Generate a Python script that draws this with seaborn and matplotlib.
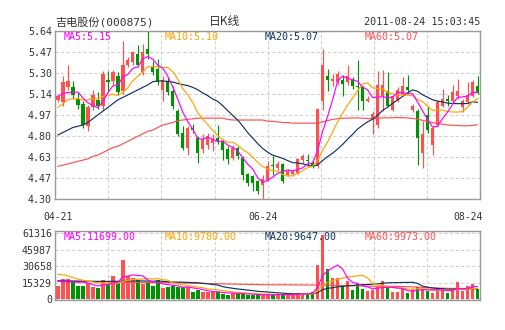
import numpy as np
import pandas as pd
import matplotlib
matplotlib.use("Agg")
import matplotlib.pyplot as plt
import matplotlib.transforms as mtransforms
import seaborn as sns

# ---------------- data ----------------
opens = [5.09, 5.07, 5.19, 5.19, 5.10, 5.06, 4.88, 5.03, 5.09, 5.04,
         5.25, 5.24, 5.28, 5.16, 5.37, 5.39, 5.46, 5.31, 5.50, 5.35,
         5.34, 5.17, 5.24, 5.16, 5.00, 4.83, 4.71, 4.87, 4.79, 4.70,
         4.73, 4.75, 4.79, 4.76, 4.70, 4.63, 4.71, 4.63, 4.50, 4.48,
         4.44, 4.41, 4.45, 4.57, 4.55, 4.58, 4.49, 4.50, 4.51, 4.61,
         4.61, 4.59, 4.56, 5.08, 5.28, 5.24, 5.23, 5.25, 5.23, 5.25,
         5.20, 5.19, 5.08, 4.95, 4.89, 5.12, 5.16, 5.01, 5.09, 5.13,
         5.19, 5.01, 5.00, 4.67, 4.97, 4.73, 4.89, 5.04, 5.10, 5.08,
         5.12, 5.03, 5.07, 5.12, 5.20]
highs = [5.13, 5.28, 5.37, 5.24, 5.15, 5.08, 5.05, 5.17, 5.15, 5.32,
         5.32, 5.33, 5.31, 5.56, 5.43, 5.48, 5.53, 5.54, 5.64, 5.40,
         5.42, 5.28, 5.27, 5.20, 5.02, 4.88, 4.88, 4.90, 4.80, 4.82,
         4.83, 4.82, 4.89, 4.78, 4.72, 4.73, 4.72, 4.64, 4.51, 4.49,
         4.45, 4.49, 4.60, 4.64, 4.60, 4.59, 4.54, 4.53, 4.63, 4.66,
         4.66, 4.62, 5.02, 5.50, 5.34, 5.30, 5.32, 5.29, 5.37, 5.27,
         5.41, 5.20, 5.12, 5.00, 5.32, 5.33, 5.31, 5.13, 5.19, 5.27,
         5.29, 5.06, 5.02, 4.92, 5.04, 4.88, 5.09, 5.18, 5.13, 5.21,
         5.26, 5.10, 5.23, 5.25, 5.28]
lows = [5.07, 5.04, 5.17, 5.10, 5.02, 4.87, 4.84, 5.01, 5.02, 5.01,
        5.16, 5.21, 5.13, 5.14, 5.35, 5.37, 5.35, 5.29, 5.42, 5.29,
        5.21, 5.08, 5.13, 5.02, 4.80, 4.69, 4.65, 4.83, 4.59, 4.67,
        4.70, 4.68, 4.74, 4.61, 4.58, 4.61, 4.62, 4.45, 4.40, 4.36,
        4.34, 4.30, 4.44, 4.49, 4.53, 4.43, 4.48, 4.48, 4.50, 4.59,
        4.56, 4.55, 4.55, 5.01, 5.16, 5.20, 5.21, 5.12, 5.21, 5.18,
        5.01, 5.01, 5.07, 4.82, 4.87, 5.00, 5.03, 5.00, 5.07, 5.12,
        5.15, 4.99, 4.57, 4.55, 4.83, 4.65, 4.88, 5.03, 5.04, 5.07,
        5.10, 4.99, 5.06, 5.11, 5.14]
closes = [5.12, 5.23, 5.24, 5.13, 5.05, 4.89, 5.03, 5.13, 5.04, 5.30,
          5.23, 5.31, 5.15, 5.37, 5.41, 5.47, 5.37, 5.47, 5.46, 5.31,
          5.23, 5.25, 5.15, 5.04, 4.82, 4.71, 4.87, 4.85, 4.67, 4.78,
          4.80, 4.78, 4.76, 4.69, 4.62, 4.71, 4.64, 4.49, 4.43, 4.43,
          4.36, 4.46, 4.56, 4.56, 4.58, 4.44, 4.52, 4.52, 4.62, 4.64,
          4.60, 4.56, 5.02, 5.37, 5.25, 5.26, 5.30, 5.22, 5.28, 5.20,
          5.19, 5.08, 5.10, 4.98, 5.21, 5.21, 5.04, 5.12, 5.17, 5.20,
          5.17, 5.04, 4.79, 4.82, 4.85, 4.87, 5.07, 5.10, 5.08, 5.15,
          5.16, 5.08, 5.13, 5.23, 5.15]
volumes = [11700, 18500, 18500, 16900, 12300, 12300, 14500, 11400, 10200, 17800,
           13800, 21000, 14500, 36000, 21500, 19100, 17800, 13800, 16000, 12300,
           17800, 10200, 10800, 12300, 10800, 10800, 11400, 6700, 8600, 6200,
           6200, 6700, 6200, 5000, 4200, 5800, 5000, 5000, 3600, 3600,
           3600, 4200, 5000, 3600, 4200, 4200, 3600, 4200, 5800, 4800,
           5800, 6500, 31700, 59400, 27700, 19700, 19700, 12900, 16900, 8600,
           13800, 9200, 7700, 8600, 10800, 16900, 10800, 6800, 6200, 9200,
           5500, 9200, 10800, 9200, 7700, 5500, 10500, 9000, 5500, 9000,
           15400, 7500, 12300, 13800, 9500]

# moving-average values at the left edge (their windows start before the chart)
ma5_head = [5.12, 5.14, 5.15, 5.15]
ma10_head = [5.03, 5.06, 5.09, 5.10, 5.10, 5.09, 5.09, 5.10, 5.10]
ma20_head = [4.81, 4.83, 4.85, 4.87, 4.88, 4.89, 4.91, 4.94, 4.97, 5.00,
             5.03, 5.06, 5.09, 5.11, 5.13, 5.15, 5.17, 5.19, 5.21]
ma60_head = [4.56, 4.57, 4.58, 4.59, 4.60, 4.61, 4.62, 4.64, 4.65, 4.67,
             4.69, 4.71, 4.72, 4.74, 4.76, 4.78, 4.80, 4.82, 4.84, 4.85,
             4.87, 4.89, 4.90, 4.91, 4.925, 4.93, 4.935, 4.94, 4.945, 4.945,
             4.945, 4.945, 4.945, 4.945, 4.935, 4.93, 4.93, 4.93, 4.93, 4.93,
             4.93, 4.93, 4.92, 4.92, 4.915, 4.91, 4.91, 4.905, 4.905, 4.905,
             4.905, 4.905, 4.905, 4.915, 4.925, 4.935, 4.94, 4.945, 4.945]
vma5_head = [16500, 16000, 16000, 15700]
vma10_head = [23000, 22500, 21500, 20000, 18500, 17500, 16500, 15800, 15200]
vma20_head = [16800, 16700, 16700, 16600, 16600, 16500, 16500, 16500, 16400, 16400,
              16400, 16500, 16500, 16600, 16700, 16800, 16800, 16800, 16700]
vma60_head = [16900, 16800, 16700, 16600, 16500, 16400, 16300, 16200, 16100, 16000,
              15900, 15800, 15700, 15600, 15600, 15500, 15500, 15400, 15400, 15300,
              15300, 15200, 15200, 15100, 15000, 14900, 14800, 14700, 14600, 14500,
              14400, 14300, 14200, 14100, 14000, 13900, 13800, 13700, 13600, 13500,
              13400, 13300, 13300, 13200, 13200, 13200, 13200, 13100, 13100, 13100,
              13000, 13000, 12900, 12900, 12800, 12700, 12600, 12400, 12300]

price_tick_labels = ["4.30", "4.47", "4.63", "4.80", "4.97", "5.14", "5.30", "5.47", "5.64"]
vol_ticks = [0, 15329, 30658, 45987, 61316]
date_labels = ["04-21", "06-24", "08-24"]
date_index = [0, 41, 84]

title = "吉电股份(000875)"
chart_kind = "日K线"
timestamp = "2011-08-24 15:03:45"
price_legend = ["MA5:5.15", "MA10:5.10", "MA20:5.07", "MA60:5.07"]
vol_legend = ["MA5:11699.00", "MA10:9780.00", "MA20:9647.00", "MA60:9973.00"]

# ---------------- styling ----------------
sns.set_theme(style="white")
plt.rcParams["font.family"] = ["DejaVu Sans Mono", "Noto Sans CJK SC"]

RED = "#ff4f4f"
GREEN = "#009300"
MA_COLORS = ["#ff00ff", "#ffa500", "#0f355e", "#ff4f4f"]
GRID = "#d2d2d2"
FRAME = "#999999"
TXT = "#333333"


def moving_average(values, window, head):
    s = pd.Series(values, dtype=float).rolling(window).mean()
    s.iloc[:len(head)] = head
    return s.to_numpy()


o = np.array(opens); h = np.array(highs); l = np.array(lows); c = np.array(closes)
v = np.array(volumes, dtype=float)
idx = np.arange(len(c))
up = c >= o
colors = np.where(up, RED, GREEN)

W, H = 505, 330
fig = plt.figure(figsize=(W / 100, H / 100), dpi=100)
fig.patch.set_facecolor("white")

L, R = 55.3, 480.0
ax = fig.add_axes([L / W, 1 - 199 / H, (R - L) / W, 168 / H])
axv = fig.add_axes([L / W, 1 - 300 / H, (R - L) / W, 69 / H])

n = len(c)
xlim = (-0.5, n - 0.5)
grid_x = np.linspace(xlim[0], xlim[1], 9)

for a in (ax, axv):
    a.set_facecolor("white")
    a.set_xlim(*xlim)
    a.set_xticks(grid_x)
    a.set_xticklabels([])
    a.grid(True, axis="both", color=GRID, linestyle=(0, (3, 2)), linewidth=0.8)
    a.set_axisbelow(True)
    a.tick_params(axis="both", length=0, labelsize=7.2, colors=TXT, pad=2.4)
    for sp in a.spines.values():
        sp.set_color(FRAME)
        sp.set_linewidth(1.0)
        sp.set_visible(True)

# price panel
ax.set_ylim(4.30, 5.64)
ax.set_yticks(np.linspace(4.30, 5.64, len(price_tick_labels)))
ax.set_yticklabels(price_tick_labels)

body_lo = np.minimum(o, c)
body_h = np.maximum(np.abs(c - o), 0.006)
ax.vlines(idx, l, h, colors=colors, linewidth=0.85, zorder=2)
ax.bar(idx, body_h, bottom=body_lo, width=0.7, color=colors, linewidth=0, zorder=3)

price_mas = [moving_average(c, 5, ma5_head), moving_average(c, 10, ma10_head),
             moving_average(c, 20, ma20_head), moving_average(c, 60, ma60_head)]
for ma, col in zip(price_mas[::-1], MA_COLORS[::-1]):
    sns.lineplot(x=idx, y=ma, ax=ax, color=col, linewidth=0.85, zorder=4, legend=False)
ax.set_xlabel(""); ax.set_ylabel("")

# volume panel
axv.set_ylim(-900, 63200)
axv.set_yticks(vol_ticks)
axv.set_yticklabels([str(t) for t in vol_ticks])
axv.bar(idx, v, width=0.75, color=colors, linewidth=0, zorder=2)
vol_mas = [moving_average(v, 5, vma5_head), moving_average(v, 10, vma10_head),
           moving_average(v, 20, vma20_head), moving_average(v, 60, vma60_head)]
for ma, col in zip(vol_mas[::-1], MA_COLORS[::-1]):
    sns.lineplot(x=idx, y=ma, ax=axv, color=col, linewidth=0.85, zorder=4, legend=False)
axv.set_xlabel(""); axv.set_ylabel("")

# date labels under the price panel
trans = mtransforms.blended_transform_factory(ax.transData, ax.transAxes)
for lab, i in zip(date_labels, date_index):
    if i == date_index[-1]:
        ax.text(xlim[1] + 0.6, -0.105, lab, transform=trans, ha="right", va="center",
                fontsize=7.0, color=TXT)
    else:
        ax.text(i, -0.105, lab, transform=trans, ha="center", va="center",
                fontsize=7.0, color=TXT)

# header texts
fig.text(55 / W, 1 - 21.7 / H, title, ha="left", va="center", fontsize=8.0, color=TXT)
fig.text(225 / W, 1 - 21.7 / H, chart_kind, ha="center", va="center", fontsize=8.5,
         color=TXT, family=["Noto Sans CJK SC"])
fig.text(480 / W, 1 - 22.3 / H, timestamp, ha="right", va="center", fontsize=7.3, color=TXT)

leg_x = [64, 165, 265, 365]
for txt, x, col in zip(price_legend, leg_x, MA_COLORS):
    fig.text(x / W, 1 - 36.7 / H, txt, ha="left", va="center", fontsize=7.2, color=col)
for txt, x, col in zip(vol_legend, leg_x, MA_COLORS):
    fig.text(x / W, 1 - 236.7 / H, txt, ha="left", va="center", fontsize=7.2, color=col)

fig.savefig("out.png", dpi=100, facecolor="white")
